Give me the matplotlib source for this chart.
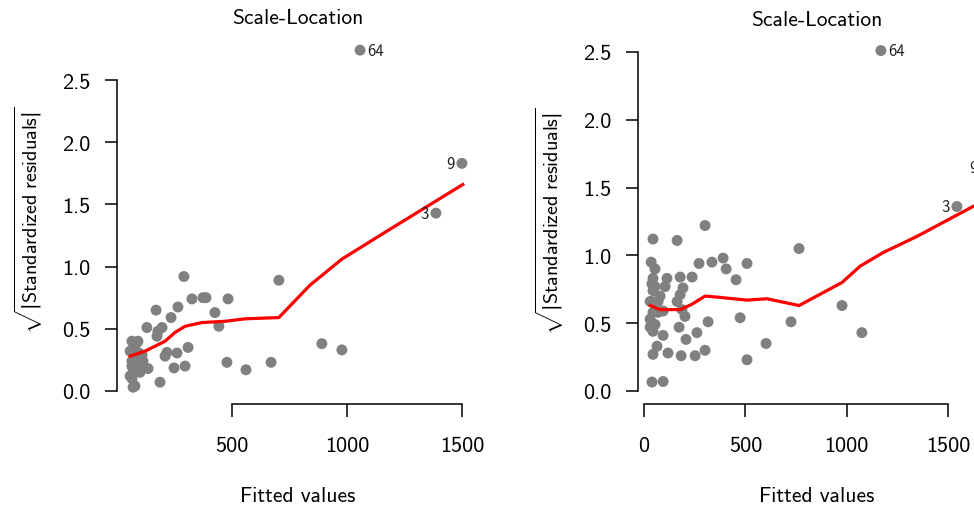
import matplotlib
matplotlib.use('Agg')
import matplotlib.pyplot as plt
import numpy as np

plt.rcParams['font.family'] = 'cmss10'
plt.rcParams['mathtext.fontset'] = 'custom'
plt.rcParams['mathtext.rm'] = 'cmss10'
plt.rcParams['mathtext.it'] = 'cmss10'
plt.rcParams['mathtext.bf'] = 'cmss10'
plt.rcParams['mathtext.sf'] = 'DejaVu Sans'
plt.rcParams['axes.unicode_minus'] = False

# left model: fitted values vs sqrt(|standardized residuals|)
left_fitted = [291, 326, 374, 387, 483, 170, 265, 235, 426, 443, 130, 196, 178, 174,
               309, 261, 217, 209, 478, 248, 296, 187, 135, 704, 670, 561, 891, 978,
               65, 87, 70, 91, 113, 65, 70, 100, 65, 70, 57, 78, 65, 100, 57, 78, 91, 109]
left_resid = [0.92, 0.74, 0.75, 0.75, 0.74, 0.65, 0.675, 0.59, 0.63, 0.52, 0.51, 0.51, 0.48, 0.44,
              0.35, 0.305, 0.31, 0.28, 0.23, 0.185, 0.20, 0.07, 0.18, 0.89, 0.23, 0.17, 0.38, 0.33,
              0.40, 0.39, 0.34, 0.31, 0.24, 0.24, 0.18, 0.15, 0.10, 0.03, 0.32, 0.26, 0.20, 0.20,
              0.12, 0.04, 0.40, 0.29]
left_out_x = [1057, 1500, 1387]
left_out_y = [2.74, 1.83, 1.43]
left_smooth_x = [57, 122, 209, 252, 296, 370, 470, 557, 704, 839, 978, 1187, 1504]
left_smooth_y = [0.28, 0.32, 0.40, 0.47, 0.52, 0.55, 0.56, 0.58, 0.59, 0.85, 1.06, 1.30, 1.66]

# right model
right_fitted = [301, 44, 163, 765, 35, 54, 271, 335, 390, 405, 508, 454, 44, 39, 113, 178,
                237, 104, 192, 44, 79, 39, 69, 163, 187, 202, 44, 94, 30, 54, 316, 474,
                725, 30, 44, 94, 173, 261, 207, 64, 44, 118, 183, 252, 301, 602, 508, 39,
                94, 977, 1075, 69, 30, 54, 178]
right_resid = [1.22, 1.12, 1.11, 1.05, 0.95, 0.90, 0.94, 0.95, 0.98, 0.90, 0.94, 0.82, 0.83, 0.79,
               0.83, 0.84, 0.84, 0.77, 0.76, 0.74, 0.70, 0.66, 0.66, 0.66, 0.60, 0.55, 0.58, 0.59,
               0.53, 0.49, 0.51, 0.54, 0.51, 0.47, 0.44, 0.41, 0.47, 0.43, 0.38, 0.33, 0.27, 0.28,
               0.26, 0.26, 0.30, 0.35, 0.23, 0.066, 0.07, 0.63, 0.43, 0.58, 0.66, 0.77, 0.71]
right_out_x = [1169, 1680, 1544]
right_out_y = [2.51, 1.65, 1.36]
right_smooth_x = [30, 79, 178, 237, 301, 375, 508, 607, 765, 977, 1066, 1179, 1347, 1623, 1680]
right_smooth_y = [0.63, 0.60, 0.60, 0.64, 0.70, 0.69, 0.67, 0.68, 0.63, 0.80, 0.92, 1.02, 1.14, 1.36, 1.40]

out_names = ['64', '9', '3']
y_ticks = [0.0, 0.5, 1.0, 1.5, 2.0, 2.5]
y_tick_labels = ['0.0', '0.5', '1.0', '1.5', '2.0', '2.5']
left_x_ticks = [500, 1000, 1500]
right_x_ticks = [0, 500, 1000, 1500]

grey = '#808080'


def draw_panel(ax, fx, fy, ox, oy, sx, sy, xticks, xlim, ylim, w_px, h_px):
    ax.scatter(fx, fy, s=62, color=grey, edgecolors='none', zorder=2, clip_on=False)
    ax.scatter(ox, oy, s=62, color=grey, edgecolors='none', zorder=2, clip_on=False)
    ax.plot(sx, sy, color='red', lw=2.3, zorder=3, clip_on=False)
    offs = [(5, 0, 'left'), (-5, 0, 'right'), (-5, 0, 'right')]
    for name, x, y, (dx, dy, ha) in zip(out_names, ox, oy, offs):
        ax.annotate(name, (x, y), xytext=(dx, dy), textcoords='offset points',
                    ha=ha, va='center', fontsize=12, color='#222222')
    ax.set_xlim(xlim)
    ax.set_ylim(ylim)
    for s in ['top', 'right']:
        ax.spines[s].set_visible(False)
    ax.spines['left'].set_bounds(0, 2.5)
    ax.spines['bottom'].set_bounds(xticks[0], xticks[-1])
    for s in ['left', 'bottom']:
        ax.spines[s].set_linewidth(1.1)
    ax.set_xticks(xticks)
    ax.set_xticklabels([str(t) for t in xticks])
    ax.set_yticks(y_ticks)
    ax.set_yticklabels(y_tick_labels)
    ax.tick_params(length=9, width=1.1, labelsize=16, pad=10, colors='black')
    ax.tick_params(axis='x', pad=14)
    ax.text(0.5, 1 + 18 / h_px, 'Scale-Location', transform=ax.transAxes,
            ha='center', va='center', fontsize=15.5)
    ax.set_xlabel('Fitted values', fontsize=15.5, va='center')
    ax.xaxis.set_label_coords(0.5, -92 / h_px)
    ax.set_ylabel(r'$\sqrt{\mathsf{|}\mathrm{Standardized\ residuals}\mathsf{|}}$',
                  fontsize=14.5, va='center')
    ax.yaxis.set_label_coords(-88 / w_px, 0.5)
    ax.patch.set_visible(False)


fig = plt.figure(figsize=(9.74, 5.10), dpi=100)
W, H = 974, 510

ax1 = fig.add_axes([117 / W, (H - 405) / H, 361 / W, 369 / H])
draw_panel(ax1, left_fitted, left_resid, left_out_x, left_out_y, left_smooth_x, left_smooth_y,
           left_x_ticks, (0, 1570), (-0.105, 2.862), 361, 369)

ax2 = fig.add_axes([638 / W, (H - 405) / H, 358 / W, 367 / H])
draw_panel(ax2, right_fitted, right_resid, right_out_x, right_out_y, right_smooth_x, right_smooth_y,
           right_x_ticks, (-30, 1737), (-0.096, 2.61), 358, 367)

fig.savefig('out.png', dpi=100)
